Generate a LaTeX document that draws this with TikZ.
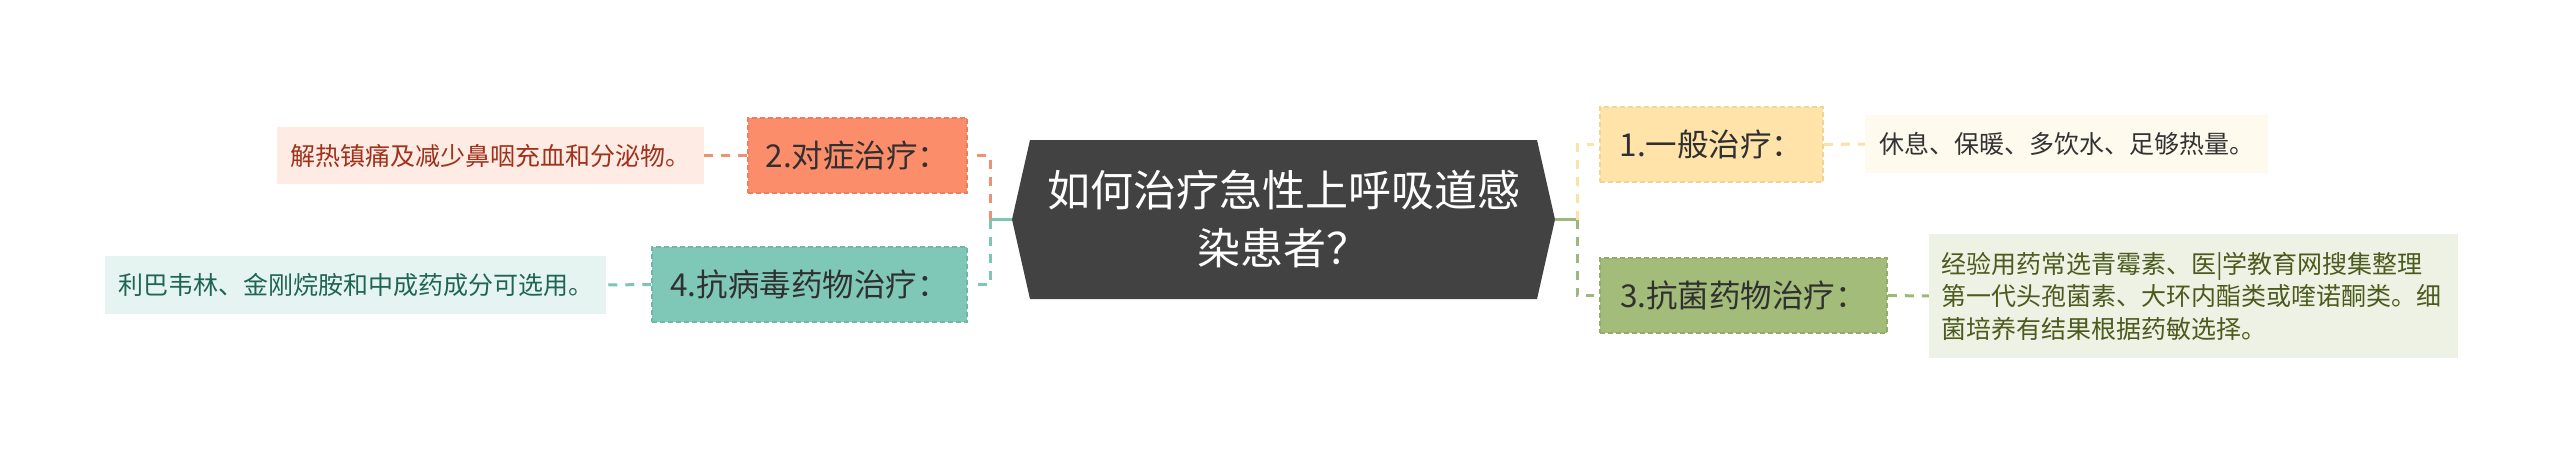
\documentclass[tikz,border=0pt]{standalone}
\usepackage{fontspec}
\setmainfont{Noto Sans CJK SC}
\usetikzlibrary{shapes.symbols}
\definecolor{rootfill}{HTML}{424242}
\definecolor{nodetext}{HTML}{303030}
\definecolor{aFill}{HTML}{FFE3A9}
\definecolor{aBd}{HTML}{F2D393}
\definecolor{aLine}{HTML}{FBE1AA}
\definecolor{aLeaf}{HTML}{FFFAEE}
\definecolor{aText}{HTML}{333333}
\definecolor{bFill}{HTML}{FC8D6B}
\definecolor{bBd}{HTML}{EB7F5E}
\definecolor{bLine}{HTML}{EE9073}
\definecolor{bLeaf}{HTML}{FDEBE4}
\definecolor{bText}{HTML}{A0311A}
\definecolor{cFill}{HTML}{A3BC7A}
\definecolor{cBd}{HTML}{92AB6A}
\definecolor{cLine}{HTML}{9DB87A}
\definecolor{cLeaf}{HTML}{EEF2E5}
\definecolor{cText}{HTML}{4B5B1D}
\definecolor{dFill}{HTML}{7FC8B8}
\definecolor{dBd}{HTML}{6FB8A8}
\definecolor{dLine}{HTML}{7DC5B5}
\definecolor{dLeaf}{HTML}{E5F4F0}
\definecolor{dText}{HTML}{1F6553}
\begin{document}
\begin{tikzpicture}[x=1pt,y=-1pt,
  topic/.style={fill=#1Fill,draw=#1Bd,line width=1.5pt,dash pattern=on 5pt off 3pt,
    minimum height=75pt,inner sep=0pt,text=nodetext,font=\fontsize{31.5}{36}\selectfont},
  leaf/.style={fill=#1Leaf,draw=none,inner sep=0pt,text=#1Text,font=\fontsize{25}{32.5}\selectfont},
  link/.style={draw=#1Line,line width=3pt,dash pattern=on 9pt off 8pt},
  trunk/.style={draw=#1Line,line width=3pt}]
\useasboundingbox (0,0) rectangle (2560,463);
% root
\node[shape=signal,signal to=west and east,signal pointer angle=154.5,
  fill=rootfill,draw=none,minimum width=543pt,minimum height=159pt,inner sep=0pt,
  text=white,align=center,font=\fontsize{43}{58}\selectfont] (root) at (1283.5,219.5)
  {如何治疗急性上呼吸道感\\染患者？};
% topics
\node[topic=a,minimum width=223pt] (n1) at (1711.5,144.5) {1.一般治疗：};
\node[topic=c,minimum width=287pt] (n3) at (1743.5,295.5) {3.抗菌药物治疗：};
\node[topic=b,minimum width=219pt] (n2) at (857.5,155.5) {2.对症治疗：};
\node[topic=d,minimum width=315pt] (n4) at (809.5,284.5) {4.抗病毒药物治疗：};
% leaves
\node[leaf=a,minimum width=403pt,minimum height=58pt] (l1) at (2066.5,144) {休息、保暖、多饮水、足够热量。};
\node[leaf=c,minimum height=124pt,text width=505pt,inner xsep=12pt,align=left] (l3) at (2193.5,296)
  {经验用药常选青霉素、医|学教育网搜集整理\\第一代头孢菌素、大环内酯类或喹诺酮类。细\\菌培养有结果根据药敏选择。};
\node[leaf=b,minimum width=427pt,minimum height=57pt] (l2) at (490.5,155.5) {解热镇痛及减少鼻咽充血和分泌物。};
\node[leaf=d,minimum width=501pt,minimum height=58pt] (l4) at (355.5,285) {利巴韦林、金刚烷胺和中成药成分可选用。};
% junctions
\coordinate (jl) at (990,219.5);
\coordinate (jr) at (1577,219.5);
% connectors
\draw[trunk=d] (root.west) -- (jl);
\draw[link=b] (jl) |- ([xshift=6pt]n2.east);
\draw[link=d] (jl) |- ([xshift=6pt]n4.east);
\draw[trunk=c] (root.east) -- (jr);
\draw[link=a] (jr) |- ([xshift=-5pt]n1.west);
\draw[link=c] (jr) |- ([xshift=-5pt]n3.west);
\draw[link=a] (n1.east) -- (l1.west);
\draw[link=c] (n3.east) -- (l3.west);
\draw[link=b] (n2.west) -- (l2.east);
\draw[link=d] (n4.west) -- (l4.east);
\end{tikzpicture}
\end{document}
